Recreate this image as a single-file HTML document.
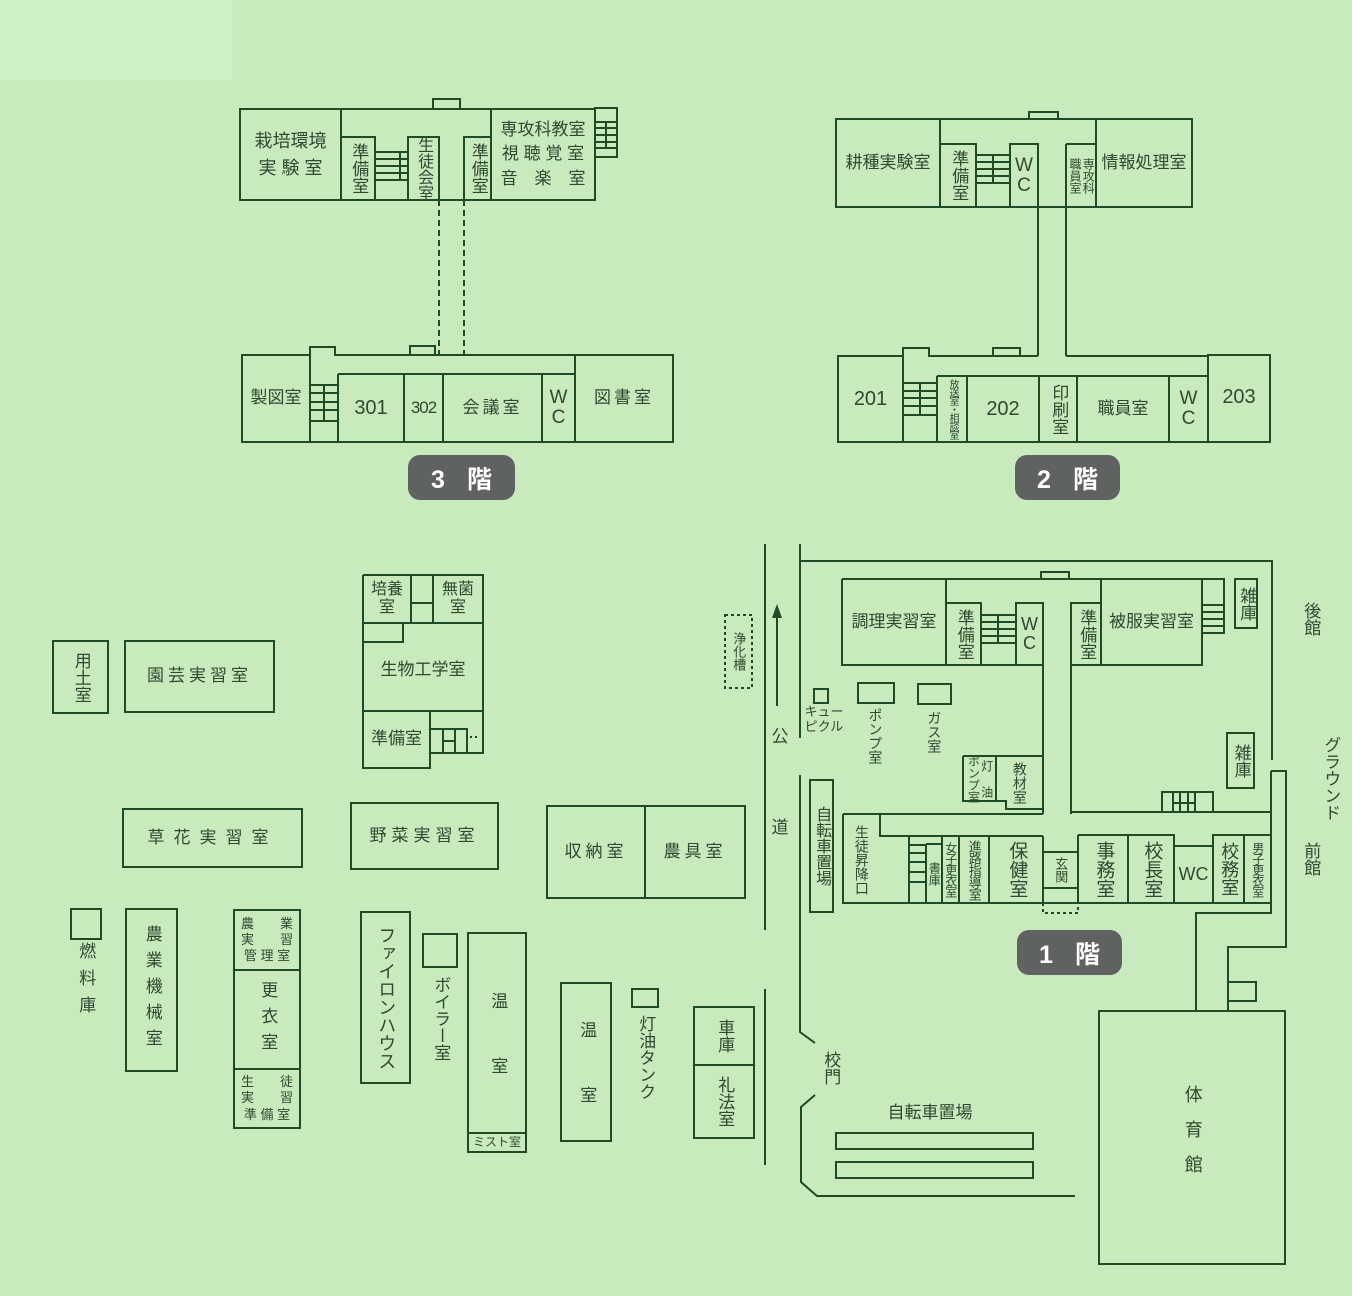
<!DOCTYPE html>
<html><head><meta charset="utf-8">
<style>
html,body{margin:0;padding:0}
body{width:1352px;height:1296px;position:relative;overflow:hidden;background:#c8eabd;font-family:"Liberation Sans","Noto Sans CJK JP",sans-serif;color:#2e4a31}
svg{position:absolute;left:0;top:0}
.b{position:absolute;display:flex;align-items:center;justify-content:center;text-align:center;font-size:17px;line-height:1.2;white-space:nowrap}
.v{writing-mode:vertical-rl;text-orientation:upright}
.bd{position:absolute;color:#fff;font-weight:bold;font-size:25px;display:flex;align-items:center;justify-content:center;background:#5f6261;border-radius:12px;letter-spacing:22px;padding-left:22px;box-sizing:border-box}
</style></head><body>
<svg width="1352" height="1296" viewBox="0 0 1352 1296">
<rect x="0" y="0" width="232" height="80" fill="#cfefc6"/>
<g fill="none" stroke="#1f4a26" stroke-width="2">
<rect x="240" y="109" width="355" height="91"/>
<polyline points="433,109 433,99 460,99 460,109"/>
<path d="M341 109V200M341 137H375V200M408 200V137H439V200M464 200V137H491M491 109V200"/>
<path d="M375 152H408M375 159H408M375 166H408M375 173H408M375 180H408M400 152V180"/>
<rect x="595" y="108" width="22" height="49"/>
<path d="M595 122H617M595 128H617M595 135H617M595 142H617M595 148H617M606 122V148"/>
<path d="M439 200V354M464 200V354" stroke-dasharray="6 4"/>
<path d="M242 355H310V347H335V355H673V442H242Z"/>
<polyline points="410,355 410,346 435,346 435,355"/>
<path d="M310 355V442M338 374V442M338 374H575M404 374V442M443 374V442M542 374V442M575 355V442"/>
<path d="M310 385H338M310 393H338M310 402H338M310 410H338M310 421H338M324 385V421"/>
<rect x="836" y="119" width="356" height="88"/>
<polyline points="1029,119 1029,112 1058,112 1058,119"/>
<path d="M940 119V207M940 144H976V207M1010 207V144H1038V356M1038 144V207M1066 144V356M1066 144H1096M1096 119V207"/>
<path d="M976 155H1010M976 162H1010M976 169H1010M976 176H1010M976 183H1010M993 155V183"/>
<path d="M1038 356H929V348H903V356H838V442H1270V355H1208V442M1208 356H1066"/>
<polyline points="993,356 993,348 1020,348 1020,356"/>
<path d="M903 356V442M937 376V442M937 376H1208M967 376V442M1039 376V442M1077 376V442M1169 376V442"/>
<path d="M903 383H937M903 391H937M903 398H937M903 406H937M903 415H937M920 383V415"/>
<path d="M765 544V930M765 989V1165M800 544V738M800 775V1032L815 1043M815 1095L801 1107V1182L817 1196H1075"/>
<path d="M777 706V616"/>
<rect x="725" y="615" width="27" height="73" stroke-dasharray="3 3"/>
<path d="M800 561H1272V760"/>
<path d="M842 579H1202M842 579V665H1043"/>
<polyline points="1041,579 1041,572 1069,572 1069,579"/>
<path d="M946 579V665M946 603H981V665M1016 665V603H1043V814M1071 814V603H1101M1101 579V665M1071 665H1202V579"/>
<path d="M981 615H1016M981 622H1016M981 629H1016M981 636H1016M981 643H1016M998 615V643"/>
<rect x="1202" y="579" width="22" height="54"/>
<path d="M1202 605H1224M1202 612H1224M1202 619H1224M1202 626H1224"/>
<rect x="1235" y="579" width="22" height="49"/>
<rect x="1227" y="733" width="27" height="55"/>
<rect x="858" y="683" width="36" height="20"/>
<rect x="918" y="684" width="33" height="20"/>
<rect x="814" y="689" width="14" height="14"/>
<path d="M963 756H1043M963 756V801H1006V809H1043M996 756V801"/>
<path d="M1162 812V792H1213V812M1173 792V812M1180 792V812M1188 792V812M1195 792V812M1173 803H1195"/>
<path d="M1071 812H1271"/>
<path d="M1271 771H1286V947H1228V1011M1271 771V913H1196V1011"/>
<rect x="1228" y="982" width="28" height="19"/>
<rect x="1099" y="1011" width="186" height="253"/>
<path d="M843 814H1043M843 814V903H1271M880 814V836H1043M909 836V903M926 844V903M926 844H942M942 836V903M959 836V903M989 836V903M1043 836V903"/>
<path d="M909 845H926M909 853H926M909 862H926M909 872H926M909 882H926"/>
<path d="M1043 852H1078M1043 888H1078M1078 835V903M1078 835H1174V846H1213V835H1271M1128 835V903M1174 846V903M1213 835V903M1244 835V903"/>
<path d="M1043 903V913H1078V903" stroke-dasharray="3 3"/>
<rect x="836" y="1133" width="197" height="16"/>
<rect x="836" y="1162" width="197" height="16"/>
<rect x="810" y="780" width="23" height="132"/>
<rect x="547" y="806" width="198" height="92"/>
<path d="M645 806V898"/>
<rect x="561" y="983" width="50" height="158"/>
<rect x="632" y="989" width="26" height="18"/>
<rect x="694" y="1007" width="60" height="131"/>
<path d="M694 1065H754"/>
<rect x="53" y="641" width="55" height="72"/>
<rect x="125" y="641" width="149" height="71"/>
<path d="M363 575H483V753H430M363 575V768H430V711M363 711H483M411 575V623M433 575V623M411 603H433M363 623H483M363 642H403V623"/>
<path d="M430 729H467V753M443 729V753M455 729V753M443 741H455"/>
<path d="M470 737H480" stroke-dasharray="2 3"/>
<rect x="123" y="809" width="179" height="58"/>
<rect x="351" y="803" width="147" height="66"/>
<rect x="71" y="909" width="30" height="30"/>
<rect x="126" y="909" width="51" height="162"/>
<rect x="234" y="910" width="66" height="218"/>
<path d="M234 970H300M234 1069H300"/>
<rect x="361" y="912" width="49" height="171"/>
<rect x="423" y="934" width="34" height="33"/>
<rect x="468" y="933" width="58" height="219"/>
<path d="M468 1133H526"/>
</g>
<polygon points="777,604 772,618 782,618" fill="#1f4a26"/>
</svg>

<div class="bd" style="left:408px;top:455px;width:107px;height:45px">3階</div>
<div class="bd" style="left:1015px;top:455px;width:105px;height:45px">2階</div>
<div class="bd" style="left:1017px;top:930px;width:105px;height:45px">1階</div>

<div class="b" style="left:240px;top:109px;width:101px;height:91px;font-size:18px;line-height:1.45">栽培環境<br>実 験 室</div>
<div class="b v" style="left:341px;top:137px;width:34px;height:63px">準備室</div>
<div class="b v" style="left:408px;top:137px;width:31px;height:63px;font-size:16px">生徒会室</div>
<div class="b v" style="left:464px;top:137px;width:27px;height:63px">準備室</div>
<div class="b" style="left:491px;top:109px;width:104px;height:91px;line-height:1.45">専攻科教室<br>視 聴 覚 室<br>音　楽　室</div>
<div class="b" style="left:242px;top:355px;width:68px;height:87px">製図室</div>
<div class="b" style="left:338px;top:374px;width:66px;height:68px;font-size:20px">301</div>
<div class="b" style="left:404px;top:374px;width:39px;height:68px;font-size:17px;letter-spacing:-1px">302</div>
<div class="b" style="left:443px;top:374px;width:99px;height:68px;letter-spacing:3px">会議室</div>
<div class="b" style="left:542px;top:374px;width:33px;height:68px;font-size:19px;line-height:1.05">W<br>C</div>
<div class="b" style="left:575px;top:355px;width:98px;height:87px;letter-spacing:3px">図書室</div>

<div class="b" style="left:836px;top:119px;width:104px;height:88px">耕種実験室</div>
<div class="b v" style="left:940px;top:144px;width:36px;height:63px">準備室</div>
<div class="b" style="left:1010px;top:144px;width:28px;height:63px;font-size:19px;line-height:1.05">W<br>C</div>
<div class="b v" style="left:1066px;top:144px;width:30px;height:63px;font-size:12px;line-height:1.1">専攻科<br>職員室</div>
<div class="b" style="left:1096px;top:119px;width:96px;height:88px">情報処理室</div>
<div class="b" style="left:838px;top:356px;width:65px;height:86px;font-size:20px">201</div>
<div class="b v" style="left:937px;top:378px;width:30px;height:62px;font-size:10px;letter-spacing:-1.5px">放送室・相談室</div>
<div class="b" style="left:967px;top:376px;width:72px;height:66px;font-size:20px">202</div>
<div class="b v" style="left:1039px;top:376px;width:38px;height:66px">印刷室</div>
<div class="b" style="left:1077px;top:376px;width:92px;height:66px">職員室</div>
<div class="b" style="left:1169px;top:376px;width:39px;height:66px;font-size:19px;line-height:1.05">W<br>C</div>
<div class="b" style="left:1208px;top:355px;width:62px;height:87px;font-size:20px;padding-bottom:4px;box-sizing:border-box">203</div>

<div class="b" style="left:842px;top:579px;width:104px;height:86px">調理実習室</div>
<div class="b v" style="left:946px;top:603px;width:35px;height:62px">準備室</div>
<div class="b" style="left:1016px;top:603px;width:27px;height:62px;font-size:18px;line-height:1.05">W<br>C</div>
<div class="b v" style="left:1071px;top:603px;width:30px;height:62px">準備室</div>
<div class="b" style="left:1101px;top:579px;width:101px;height:86px">被服実習室</div>
<div class="b v" style="left:1235px;top:579px;width:22px;height:49px">雑庫</div>
<div class="b v" style="left:1227px;top:733px;width:27px;height:55px">雑庫</div>
<div class="b v" style="left:860px;top:705px;width:30px;height:62px;font-size:14px">ポンプ室</div>
<div class="b v" style="left:920px;top:707px;width:28px;height:50px;font-size:14px">ガス室</div>
<div class="b" style="left:800px;top:703px;width:48px;height:34px;font-size:13px;line-height:1.15">キュー<br>ピクル</div>
<div class="b v" style="left:963px;top:756px;width:33px;height:45px;font-size:12px;line-height:1.1">灯 油<br>ポンプ室</div>
<div class="b v" style="left:996px;top:756px;width:47px;height:53px;font-size:14px">教材室</div>
<div class="b v" style="left:843px;top:820px;width:37px;height:80px;font-size:14px">生徒昇降口</div>
<div class="b v" style="left:926px;top:844px;width:16px;height:59px;font-size:12px">書庫</div>
<div class="b v" style="left:942px;top:836px;width:17px;height:67px;font-size:12px;letter-spacing:-1px">女子更衣室</div>
<div class="b v" style="left:959px;top:836px;width:30px;height:67px;font-size:13px;letter-spacing:-1px">進路指導室</div>
<div class="b v" style="left:989px;top:836px;width:54px;height:67px;font-size:19px">保健室</div>
<div class="b v" style="left:1043px;top:852px;width:35px;height:36px;font-size:13px">玄関</div>
<div class="b v" style="left:1078px;top:835px;width:50px;height:68px;font-size:19px">事務室</div>
<div class="b v" style="left:1128px;top:835px;width:46px;height:68px;font-size:19px">校長室</div>
<div class="b" style="left:1174px;top:846px;width:39px;height:57px;font-size:18px">WC</div>
<div class="b v" style="left:1213px;top:835px;width:31px;height:68px;font-size:18px">校務室</div>
<div class="b v" style="left:1244px;top:835px;width:27px;height:68px;font-size:12px;letter-spacing:-1px">男子更衣室</div>
<div class="b v" style="left:1099px;top:1011px;width:186px;height:253px;font-size:18px;letter-spacing:17px">体育館</div>
<div class="b v" style="left:810px;top:780px;width:23px;height:132px;font-size:16px">自転車置場</div>
<div class="b" style="left:768px;top:724px;width:24px;height:26px">公</div>
<div class="b" style="left:768px;top:815px;width:24px;height:26px">道</div>
<div class="b v" style="left:725px;top:615px;width:27px;height:73px;font-size:13px">浄化槽</div>
<div class="b v" style="left:818px;top:1046px;width:24px;height:44px">校門</div>
<div class="b" style="left:870px;top:1100px;width:120px;height:26px">自転車置場</div>
<div class="b v" style="left:1297px;top:596px;width:26px;height:46px">後館</div>
<div class="b v" style="left:1317px;top:730px;width:26px;height:96px">グラウンド</div>
<div class="b v" style="left:1297px;top:836px;width:26px;height:46px">前館</div>

<div class="b v" style="left:53px;top:641px;width:55px;height:72px">用土室</div>
<div class="b" style="left:125px;top:641px;width:149px;height:71px;letter-spacing:4px">園芸実習室</div>
<div class="b" style="left:363px;top:575px;width:48px;height:48px;font-size:16px;line-height:1.15">培養<br>室</div>
<div class="b" style="left:433px;top:575px;width:50px;height:48px;font-size:16px;line-height:1.15">無菌<br>室</div>
<div class="b" style="left:363px;top:642px;width:120px;height:56px">生物工学室</div>
<div class="b" style="left:363px;top:711px;width:67px;height:57px">準備室</div>
<div class="b" style="left:123px;top:809px;width:179px;height:58px;letter-spacing:9px">草花実習室</div>
<div class="b" style="left:351px;top:803px;width:147px;height:66px;letter-spacing:5px">野菜実習室</div>
<div class="b" style="left:547px;top:806px;width:98px;height:92px;letter-spacing:4px">収納室</div>
<div class="b" style="left:645px;top:806px;width:100px;height:92px;letter-spacing:4px">農具室</div>
<div class="b v" style="left:70px;top:942px;width:30px;height:80px;letter-spacing:10px">燃料庫</div>
<div class="b v" style="left:126px;top:909px;width:51px;height:162px;letter-spacing:9px">農業機械室</div>
<div class="b" style="left:234px;top:910px;width:66px;height:60px;font-size:13px;line-height:1.25">農　　業<br>実　　習<br>管 理 室</div>
<div class="b v" style="left:234px;top:970px;width:66px;height:99px;letter-spacing:9px">更衣室</div>
<div class="b" style="left:234px;top:1069px;width:66px;height:59px;font-size:13px;line-height:1.25">生　　徒<br>実　　習<br>準 備 室</div>
<div class="b v" style="left:361px;top:912px;width:49px;height:171px;font-size:18px">ファイロンハウス</div>
<div class="b v" style="left:427px;top:968px;width:26px;height:100px">ボイラー室</div>
<div class="b v" style="left:468px;top:933px;width:58px;height:200px;letter-spacing:48px;padding-top:48px;box-sizing:border-box">温室</div>
<div class="b" style="left:468px;top:1133px;width:58px;height:19px;font-size:12px">ミスト室</div>
<div class="b v" style="left:561px;top:983px;width:50px;height:158px;letter-spacing:48px;padding-top:48px;box-sizing:border-box">温室</div>
<div class="b v" style="left:632px;top:1010px;width:26px;height:95px">灯油タンク</div>
<div class="b v" style="left:694px;top:1007px;width:60px;height:58px">車庫</div>
<div class="b v" style="left:694px;top:1065px;width:60px;height:73px">礼法室</div>
</body></html>
